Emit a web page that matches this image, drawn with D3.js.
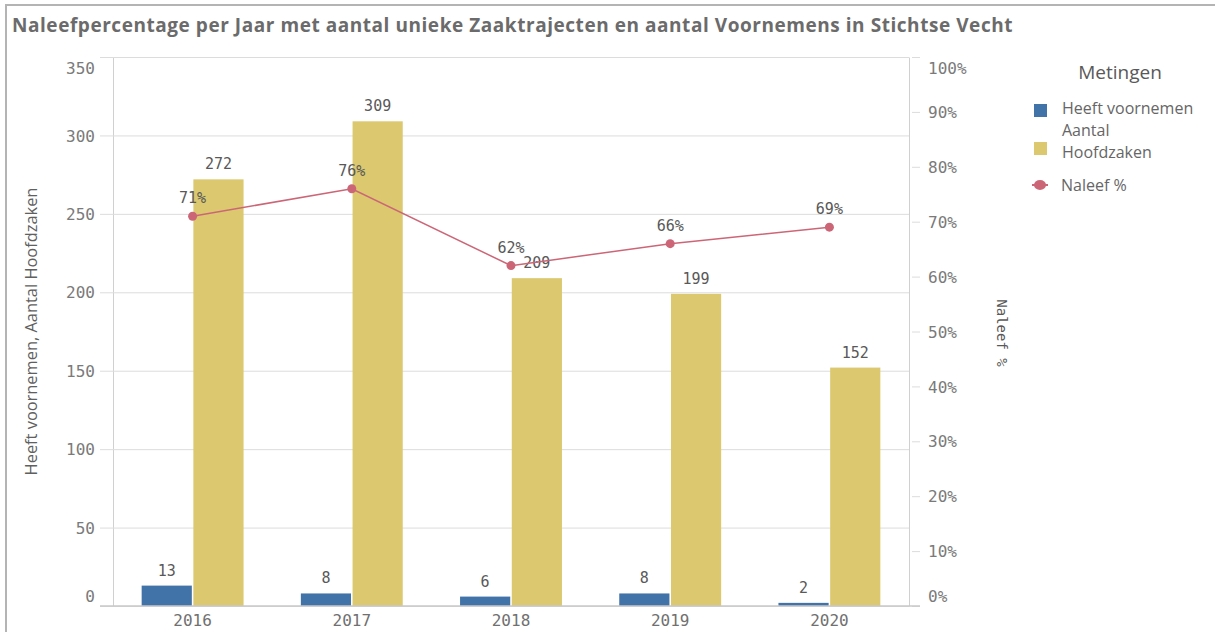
<!DOCTYPE html>
<html>
<head>
<meta charset="utf-8">
<script src="https://cdn.jsdelivr.net/npm/d3@7"></script>
<style>
  body { margin: 0; background: #fff; }
  svg { display: block; }
</style>
</head>
<body>
<svg id="chart"></svg>
<script>
// data
var years = ["2016", "2017", "2018", "2019", "2020"];
var heeftVoornemen = [13, 8, 6, 8, 2];
var aantalHoofdzaken = [272, 309, 209, 199, 152];
var naleefPct = [0.71, 0.76, 0.62, 0.66, 0.69];
var leftTicks = [0, 50, 100, 150, 200, 250, 300, 350];
var rightTicks = [0, 0.1, 0.2, 0.3, 0.4, 0.5, 0.6, 0.7, 0.8, 0.9, 1];
var seriesNames = ["Heeft voornemen", "Aantal Hoofdzaken"];

var width = 1215, height = 632;
var margin = {"top": 57, "right": 306, "bottom": 26, "left": 113};
var monoFont = "'DejaVu Sans Mono', monospace";
var sansFont = "'Open Sans', 'Noto Sans', sans-serif";
var colors = {"blue": "#4172a8", "yellow": "#dbc86f", "pink": "#cc6677"};

var svg = d3.select("#chart").attr("width", width).attr("height", height);

// outer frame
svg.append("path")
  .attr("d", "M6," + height + "V5H" + width)
  .attr("fill", "none").attr("stroke", "#b4b4b4").attr("stroke-width", 2);

// title
svg.append("text")
  .attr("x", 12).attr("y", 32)
  .style("font-family", sansFont).style("font-weight", "bold")
  .style("font-size", "19px").style("letter-spacing", "0.55px").style("fill", "#6b6b6b")
  .text("Naleefpercentage per Jaar met aantal unieke Zaaktrajecten en aantal Voornemens in Stichtse Vecht");

// scales
var x = d3.scaleBand().domain(years)
  .range([margin.left, width - margin.right])
  .paddingInner(0.36).paddingOuter(0.18);
var xSub = d3.scaleBand().domain(seriesNames)
  .range([0, x.bandwidth()]).paddingInner(0.03);
var yLeft = d3.scaleLinear().domain([0, 350]).range([height - margin.bottom, margin.top]);
var yRight = d3.scaleLinear().domain([0, 1]).range([height - margin.bottom, margin.top]);

var x0 = margin.left, x1 = width - margin.right, yBase = height - margin.bottom;

// gridlines + left axis
var leftAxis = d3.axisLeft(yLeft).tickValues(leftTicks).tickSize(13).tickPadding(5);
var gL = svg.append("g").attr("transform", "translate(" + x0 + ",0)").call(leftAxis);
gL.select(".domain").attr("stroke", "#d0d0d0");
gL.selectAll(".tick line").attr("stroke", "#dcdcdc").attr("x2", -13).attr("x1", x1 - x0);
gL.selectAll(".tick text")
  .style("font-family", monoFont).style("font-size", "16px").style("fill", "#7a7a7a")
  .attr("dy", function(d){ return d === 350 ? "1.0em" : (d === 0 ? "-0.3em" : "0.35em"); });

// right axis
var rightAxis = d3.axisRight(yRight).tickValues(rightTicks).tickSize(0).tickPadding(19)
  .tickFormat(d3.format(".0%"));
var gR = svg.append("g").attr("transform", "translate(" + x1 + ",0)").call(rightAxis);
gR.select(".domain").attr("stroke", "#d0d0d0");
gR.selectAll(".tick").append("line").attr("x1", 3).attr("x2", 11).attr("stroke", "#dcdcdc");
gR.selectAll(".tick text")
  .style("font-family", monoFont).style("font-size", "16px").style("fill", "#7a7a7a")
  .attr("dy", function(d){ return d === 1 ? "1.0em" : (d === 0 ? "-0.3em" : "0.35em"); });

// bars
var groups = svg.append("g").selectAll("g")
  .data(years).join("g")
  .attr("transform", function(d){ return "translate(" + x(d) + ",0)"; });

var barData = function(d, i){
  return [
    {"name": seriesNames[0], "v": heeftVoornemen[i], "c": colors.blue},
    {"name": seriesNames[1], "v": aantalHoofdzaken[i], "c": colors.yellow}
  ];
};

groups.selectAll("rect")
  .data(barData).join("rect")
  .attr("x", function(d){ return xSub(d.name); })
  .attr("y", function(d){ return yLeft(d.v); })
  .attr("width", xSub.bandwidth())
  .attr("height", function(d){ return yBase - yLeft(d.v); })
  .attr("fill", function(d){ return d.c; });

groups.selectAll("text.val")
  .data(barData).join("text")
  .attr("class", "val")
  .attr("x", function(d){ return xSub(d.name) + xSub.bandwidth() / 2; })
  .attr("y", function(d){ return yLeft(d.v) - 10; })
  .attr("text-anchor", "middle")
  .style("font-family", monoFont).style("font-size", "15px").style("fill", "#595959")
  .text(function(d){ return d.v; });

// baseline
svg.append("line")
  .attr("x1", x0 - 13).attr("x2", x1 + 11)
  .attr("y1", yBase).attr("y2", yBase)
  .attr("stroke", "#c8c8c8").attr("stroke-width", 1.5);

// x axis labels
svg.append("g").selectAll("text")
  .data(years).join("text")
  .attr("x", function(d){ return x(d) + x.bandwidth() / 2; })
  .attr("y", yBase + 20)
  .attr("text-anchor", "middle")
  .style("font-family", monoFont).style("font-size", "16px").style("fill", "#707070")
  .text(function(d){ return d; });

// line series
var cx = function(d, i){ return x(years[i]) + x.bandwidth() / 2; };
var line = d3.line().x(cx).y(function(d){ return yRight(d); });

svg.append("path")
  .datum(naleefPct)
  .attr("d", line)
  .attr("fill", "none").attr("stroke", colors.pink).attr("stroke-width", 1.5);

svg.append("g").selectAll("circle")
  .data(naleefPct).join("circle")
  .attr("cx", cx).attr("cy", function(d){ return yRight(d); })
  .attr("r", 4.5).attr("fill", colors.pink);

svg.append("g").selectAll("text")
  .data(naleefPct).join("text")
  .attr("x", cx).attr("y", function(d){ return yRight(d) - 13; })
  .attr("text-anchor", "middle")
  .style("font-family", monoFont).style("font-size", "15px").style("fill", "#595959")
  .text(function(d){ return d3.format(".0%")(d); });

// axis titles
svg.append("text")
  .attr("transform", "translate(37," + ((margin.top + yBase) / 2) + ") rotate(-90)")
  .attr("text-anchor", "middle")
  .style("font-family", sansFont).style("font-size", "16.4px").style("fill", "#606060")
  .text("Heeft voornemen, Aantal Hoofdzaken");

svg.append("text")
  .attr("transform", "translate(997,333) rotate(90)")
  .attr("text-anchor", "middle")
  .style("font-family", monoFont).style("font-size", "14px").style("fill", "#595959")
  .text("Naleef %");

// legend
var legend = svg.append("g");
legend.append("text")
  .attr("x", 1120).attr("y", 79).attr("text-anchor", "middle")
  .style("font-family", sansFont).style("font-size", "19px").style("fill", "#595959")
  .text("Metingen");

var legendFont = "16px";
legend.append("rect").attr("x", 1034).attr("y", 104).attr("width", 13).attr("height", 13).attr("fill", colors.blue);
legend.append("text").attr("x", 1062).attr("y", 114)
  .style("font-family", sansFont).style("font-size", legendFont).style("fill", "#666")
  .text(seriesNames[0]);

legend.append("rect").attr("x", 1034).attr("y", 142).attr("width", 13).attr("height", 13).attr("fill", colors.yellow);
legend.append("text").attr("x", 1062).attr("y", 136)
  .style("font-family", sansFont).style("font-size", legendFont).style("fill", "#666")
  .text("Aantal");
legend.append("text").attr("x", 1062).attr("y", 158)
  .style("font-family", sansFont).style("font-size", legendFont).style("fill", "#666")
  .text("Hoofdzaken");

legend.append("line").attr("x1", 1032).attr("x2", 1048).attr("y1", 185).attr("y2", 185)
  .attr("stroke", colors.pink).attr("stroke-width", 2);
legend.append("ellipse").attr("cx", 1040).attr("cy", 185).attr("rx", 6).attr("ry", 5).attr("fill", colors.pink);
legend.append("text").attr("x", 1061).attr("y", 191)
  .style("font-family", sansFont).style("font-size", legendFont).style("fill", "#666")
  .text("Naleef %");
</script>
</body>
</html>
